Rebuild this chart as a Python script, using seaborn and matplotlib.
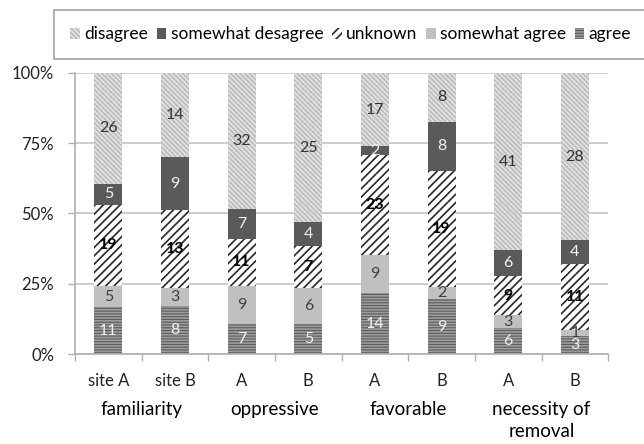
import matplotlib
matplotlib.use("Agg")
import matplotlib.pyplot as plt
from matplotlib.patches import Patch
from matplotlib.ticker import PercentFormatter, FixedLocator
import matplotlib.transforms as mtransforms
import pandas as pd
import seaborn as sns

# answer counts per bar (bottom to top of each stack)
bars = ["fam_A", "fam_B", "opp_A", "opp_B", "fav_A", "fav_B", "nec_A", "nec_B"]
tick_labels = ["site A", "site B", "A", "B", "A", "B", "A", "B"]
groups = ["familiarity", "oppressive", "favorable", "necessity of\nremoval"]

agree = [11, 8, 7, 5, 14, 9, 6, 3]
somewhat_agree = [5, 3, 9, 6, 9, 2, 3, 1]
unknown = [19, 13, 11, 7, 23, 19, 9, 11]
somewhat_desagree = [5, 9, 7, 4, 2, 8, 6, 4]
disagree = [26, 14, 32, 25, 17, 8, 41, 28]

layers = ["agree", "somewhat agree", "unknown", "somewhat desagree", "disagree"]
styles = {
    "agree": dict(color="#5c5c5c", hatch="------", edgecolor="#9c9c9c", text="#f2f2f2", weight="normal"),
    "somewhat agree": dict(color="#c0c0c0", hatch=None, edgecolor="#c0c0c0", text="#404040", weight="normal"),
    "unknown": dict(color="#ffffff", hatch="////", edgecolor="#262626", text="#000000", weight="bold"),
    "somewhat desagree": dict(color="#5a5a5a", hatch=None, edgecolor="#5a5a5a", text="#f2f2f2", weight="normal"),
    "disagree": dict(color="#e2e2e2", hatch="\\\\\\\\\\\\\\", edgecolor="#bcbcbc", text="#333333", weight="normal"),
}

df = pd.DataFrame({"bar": bars, "agree": agree, "somewhat agree": somewhat_agree,
                   "unknown": unknown, "somewhat desagree": somewhat_desagree,
                   "disagree": disagree})
total = df[layers].sum(axis=1)
pct = df[layers].div(total, axis=0) * 100
cum = pct.cumsum(axis=1)
cum["bar"] = df["bar"]

plt.rcParams["font.family"] = ["Lato", "DejaVu Sans"]
plt.rcParams["hatch.linewidth"] = 1.2

fig = plt.figure(figsize=(6.44, 4.44), dpi=100)
ax = fig.add_axes([0.1165, 0.2027, 0.828, 0.633])

# draw cumulative bars from the top layer down so each lower one covers the rest
for name in reversed(layers):
    st = styles[name]
    sns.barplot(data=cum, x="bar", y=name, order=bars, color=st["color"], saturation=1,
                width=0.42, hatch=st["hatch"], edgecolor=st["edgecolor"], linewidth=0,
                errorbar=None, ax=ax, zorder=2)

# value labels in the middle of each segment
for i in range(len(bars)):
    bottom = 0
    for name in layers:
        h = pct.loc[i, name]
        st = styles[name]
        ax.text(i, bottom + h / 2, str(df.loc[i, name]), ha="center", va="center",
                fontsize=11.5, color=st["text"], fontweight=st["weight"], zorder=3)
        bottom += h

ax.set_xlim(-0.5, 7.5)
ax.set_ylim(0, 100)
ax.set_yticks([0, 25, 50, 75, 100])
ax.yaxis.set_major_formatter(PercentFormatter(100, decimals=0))
ax.set_xticks(range(len(bars)), tick_labels)
ax.xaxis.set_minor_locator(FixedLocator([x - 0.5 for x in range(len(bars) + 1)]))
ax.tick_params(axis="x", which="major", length=0, pad=14, labelsize=12, labelcolor="#222222")
ax.tick_params(axis="x", which="minor", length=5, color="#b0b0b0", width=1)
ax.tick_params(axis="y", length=5, pad=10, color="#b0b0b0", width=1, labelsize=12, labelcolor="#222222")
ax.set_xlabel("")
ax.set_ylabel("")
ax.grid(axis="y", color="#c4c4c4", linewidth=1.2, zorder=0)
ax.set_axisbelow(True)
for side in ["top", "right"]:
    ax.spines[side].set_visible(False)
for side in ["left", "bottom"]:
    ax.spines[side].set_color("#b0b0b0")
    ax.spines[side].set_linewidth(1.2)

# group names under each pair of bars
trans = mtransforms.blended_transform_factory(ax.transData, ax.transAxes)
for k, g in enumerate(groups):
    ax.text(2 * k + 0.5, -0.168, g, transform=trans, ha="center", va="top",
            fontsize=13.5, color="#000000", linespacing=1.35)

handles = [Patch(facecolor=styles[n]["color"], hatch=styles[n]["hatch"],
                 edgecolor=styles[n]["edgecolor"], linewidth=0, label=n)
           for n in reversed(layers)]
leg = fig.legend(handles=handles, loc="upper left", bbox_to_anchor=(54 / 644, 1 - 10 / 444),
                 borderaxespad=0, ncol=5, frameon=True, fancybox=False, edgecolor="#8c8c8c",
                 fontsize=12.5, handlelength=0.55, handleheight=0.55, handletextpad=0.25,
                 columnspacing=0.5, borderpad=0.95)
leg.get_frame().set_linewidth(1.2)

fig.savefig("out.png", dpi=100)
